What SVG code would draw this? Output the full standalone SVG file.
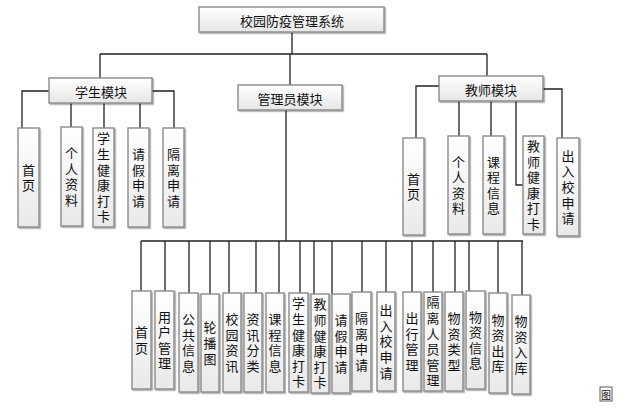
<svg xmlns="http://www.w3.org/2000/svg" width="627" height="412" viewBox="0 0 627 412">
<defs>
<linearGradient id="g" x1="0" y1="0" x2="0" y2="1"><stop offset="0" stop-color="#ffffff"/><stop offset="1" stop-color="#e6e6e6"/></linearGradient>
<linearGradient id="gv" x1="0" y1="0" x2="0" y2="1"><stop offset="0" stop-color="#ffffff"/><stop offset="1" stop-color="#e9e9e9"/></linearGradient>
<filter id="sh" x="-20%" y="-20%" width="150%" height="150%"><feDropShadow dx="1.2" dy="1.2" stdDeviation="0.7" flood-color="#000" flood-opacity="0.35"/></filter>
</defs>
<style>
.b{fill:url(#g);stroke:#8a8a8a;stroke-width:1.4;filter:url(#sh)}
.v{fill:url(#gv);stroke:#8a8a8a;stroke-width:1.4;filter:url(#sh)}
text{font-family:"Noto Sans CJK SC","Noto Sans CJK JP",sans-serif;font-size:13px;fill:#111;text-anchor:middle;dominant-baseline:central}
.vt{writing-mode:vertical-rl;text-orientation:upright;letter-spacing:2.6px}
.c{fill:none;stroke:#222;stroke-width:1.3}
</style>
<rect width="627" height="412" fill="#fff"/>
<g id="connectors">
<path class="c" d="M292 32V54M100 54H487M100 54V78M290 54V85M487 54V76"/>
<path class="c" d="M49 91H22V128M71 103V127M104 103V128M140 103V128M152 91H174V128"/>
<path class="c" d="M439 86H416V138M459 101V136M491 101V136M516 101V185H523M543 89H562V138"/>
<path class="c" d="M286 110V241M141 241H523"/>
<path class="c" d="M141 241V291M165 241V291M189 241V293M210 241V294M229 241V293M256 241V293M279 241V293M300 241V293M314 241V294M332 241V294M362 241V292M386 241V292M412 241V292M433 241V292M455 241V292M469 241V291M498 241V293M522 241V295"/>
</g>
<g id="root"><rect class="b" x="199" y="7" width="185" height="25"/><text x="292" y="20">校园防疫管理系统</text></g>
<g id="student"><rect class="b" x="49" y="78" width="103" height="25"/><text x="101" y="91">学生模块</text></g>
<g id="admin"><rect class="b" x="238" y="85" width="104" height="25"/><text x="290" y="98">管理员模块</text></g>
<g id="teacher"><rect class="b" x="439" y="76" width="104" height="25"/><text x="491" y="89">教师模块</text></g>

<g id="s1"><rect class="v" x="18" y="128" width="21" height="99"/><text class="vt" x="28.5" y="178.8">首页</text></g>
<g id="s2"><rect class="v" x="61" y="127" width="21" height="99"/><text class="vt" x="71.5" y="177.8">个人资料</text></g>
<g id="s3"><rect class="v" x="93" y="128" width="21" height="99"/><text class="vt" x="103.5" y="178.8">学生健康打卡</text></g>
<g id="s4"><rect class="v" x="128" y="128" width="21" height="99"/><text class="vt" x="138.5" y="178.8">请假申请</text></g>
<g id="s5"><rect class="v" x="163" y="128" width="21" height="99"/><text class="vt" x="173.5" y="178.8">隔离申请</text></g>

<g id="t1"><rect class="v" x="403" y="138" width="21" height="97"/><text class="vt" x="413.5" y="187.8">首页</text></g>
<g id="t2"><rect class="v" x="448" y="136" width="21" height="98"/><text class="vt" x="458.5" y="186.3">个人资料</text></g>
<g id="t3"><rect class="v" x="483" y="136" width="21" height="98"/><text class="vt" x="493.5" y="186.3">课程信息</text></g>
<g id="t4"><rect class="v" x="523" y="136" width="21" height="98"/><text class="vt" x="533.5" y="186.3">教师健康打卡</text></g>
<g id="t5"><rect class="v" x="557" y="138" width="22" height="98"/><text class="vt" x="568" y="188.3">出入校申请</text></g>

<g id="a1"><rect class="v" x="132" y="291" width="19" height="98"/><text class="vt" x="141.5" y="341.3">首页</text></g>
<g id="a2"><rect class="v" x="155" y="291" width="19" height="98"/><text class="vt" x="164.5" y="341.3">用户管理</text></g>
<g id="a3"><rect class="v" x="179" y="293" width="19" height="99"/><text class="vt" x="188.5" y="343.8">公共信息</text></g>
<g id="a4"><rect class="v" x="201" y="294" width="18" height="98"/><text class="vt" x="210" y="344.3">轮播图</text></g>
<g id="a5"><rect class="v" x="223" y="293" width="18" height="99"/><text class="vt" x="232" y="343.8">校园资讯</text></g>
<g id="a6"><rect class="v" x="244" y="293" width="18" height="99"/><text class="vt" x="253" y="343.8">资讯分类</text></g>
<g id="a7"><rect class="v" x="266" y="293" width="18" height="99"/><text class="vt" x="275" y="343.8">课程信息</text></g>
<g id="a8"><rect class="v" x="289" y="293" width="19" height="99"/><text class="vt" x="298.5" y="343.8">学生健康打卡</text></g>
<g id="a9"><rect class="v" x="311" y="294" width="18" height="99"/><text class="vt" x="320" y="344.8">教师健康打卡</text></g>
<g id="a10"><rect class="v" x="332" y="294" width="18" height="99"/><text class="vt" x="341" y="344.8">请假申请</text></g>
<g id="a11"><rect class="v" x="352" y="292" width="19" height="99"/><text class="vt" x="361.5" y="342.8">隔离申请</text></g>
<g id="a12"><rect class="v" x="377" y="292" width="18" height="99"/><text class="vt" x="386" y="342.8">出入校申请</text></g>
<g id="a13"><rect class="v" x="403" y="292" width="18" height="99"/><text class="vt" x="412" y="342.8">出行管理</text></g>
<g id="a14"><rect class="v" x="424" y="292" width="18" height="99"/><text class="vt" x="433" y="342.8">隔离人员管理</text></g>
<g id="a15"><rect class="v" x="445" y="292" width="18" height="99"/><text class="vt" x="454" y="342.8">物资类型</text></g>
<g id="a16"><rect class="v" x="466" y="291" width="19" height="98"/><text class="vt" x="475.5" y="341.3">物资信息</text></g>
<g id="a17"><rect class="v" x="489" y="293" width="18" height="100"/><text class="vt" x="498" y="344.3">物资出库</text></g>
<g id="a18"><rect class="v" x="512" y="295" width="18" height="99"/><text class="vt" x="521" y="345.8">物资入库</text></g>

<g id="caption"><rect x="600" y="387" width="12" height="14" fill="none" stroke="#333" stroke-width="0.8"/><text x="606" y="394" style="font-size:10px">图</text></g>
</svg>
